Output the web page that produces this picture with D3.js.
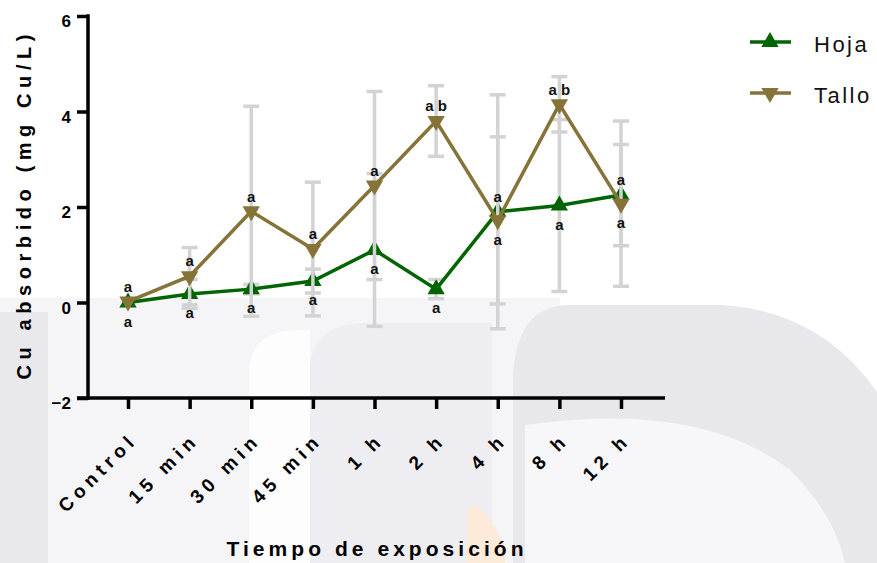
<!DOCTYPE html>
<html>
<head>
<meta charset="utf-8">
<script src="https://cdn.jsdelivr.net/npm/d3@7"></script>
<style>
  body { margin: 0; background: #fff; }
  svg { display: block; }
</style>
</head>
<body>
<svg id="chart" width="877" height="563"></svg>
<script>
"use strict";

// values (mg Cu/L)
var categories = ["Control", "15 min", "30 min", "45 min", "1 h", "2 h", "4 h", "8 h", "12 h"];
var hoja = [0, 0.18, 0.28, 0.45, 1.1, 0.28, 1.9, 2.03, 2.25];
var hojaErr = [0, 0.3, 0.1, 0.25, 1.6, 0.2, 2.45, 1.8, 1.06];
var tallo = [0.02, 0.55, 1.91, 1.12, 2.45, 3.8, 1.72, 4.15, 2.07];
var talloErr = [0, 0.6, 2.2, 1.4, 1.97, 0.74, 1.75, 0.58, 1.73];
var talloLetters = ["a", "a", "a", "a", "a", "a b", "a", "a b", "a"];
var hojaLetters = ["a", "a", "a", "a", "a", "a", "a", "a", "a"];
var yTicks = [-2, 0, 2, 4, 6];
var seriesNames = ["Hoja", "Tallo"];

var green = "#006400";
var olive = "#857338";
var errGrey = "#d3d3d3";
var font = "'Liberation Sans', Arial, sans-serif";

var svg = d3.select("#chart");

var x = d3.scalePoint().domain(categories).range([128, 621]);
var y = d3.scaleLinear().domain([-2, 6]).range([398, 16]);

/**
 * Faint watermark shapes behind the plot.
 */
function background(svg) {
  var bg = svg.append("g");
  bg.append("rect").attr("x", 0).attr("y", 298).attr("width", 560).attr("height", 265).attr("fill", "#f5f5f7");
  bg.append("rect").attr("x", 0).attr("y", 312).attr("width", 48).attr("height", 251).attr("fill", "#e9e9ed");
  bg.append("path").attr("d", "M249,563 V370 Q252,330 300,330 H310 V563 Z").attr("fill", "#fdfdfd");
  bg.append("path").attr("d", "M310,563 V365 Q315,323 365,323 H492 V563 Z").attr("fill", "#eeeef2");
  bg.append("path").attr("d", "M513,563 V380 Q515,305 570,305 H720 Q820,310 877,392 V563 Z").attr("fill", "#e7e7ec");
  bg.append("path").attr("d", "M525,563 V425 Q700,400 790,470 Q835,515 845,563 Z").attr("fill", "#f7f7f9");
  bg.append("path").attr("d", "M466,563 L468,508 Q478,500 490,520 L505,545 V563 Z").attr("fill", "#fdebd9");
}

/**
 * Draw one data set: error bars, connecting line and triangle symbols.
 */
function drawSeries(svg, values, errs, color, down) {
  var g = svg.append("g");
  var cap = 8;

  var bars = g.selectAll(".err")
      .data(values.map(function(v, i) { return {v: v, e: errs[i], c: categories[i]}; })
        .filter(function(d) { return d.e > 0; }))
      .enter()
      .append("g")
      .attr("stroke", errGrey)
      .attr("stroke-width", 3.5);

  bars.append("line")
      .attr("x1", function(d) { return x(d.c); })
      .attr("x2", function(d) { return x(d.c); })
      .attr("y1", function(d) { return y(d.v - d.e); })
      .attr("y2", function(d) { return y(d.v + d.e); });
  bars.append("line")
      .attr("x1", function(d) { return x(d.c) - cap; })
      .attr("x2", function(d) { return x(d.c) + cap; })
      .attr("y1", function(d) { return y(d.v + d.e); })
      .attr("y2", function(d) { return y(d.v + d.e); });
  bars.append("line")
      .attr("x1", function(d) { return x(d.c) - cap; })
      .attr("x2", function(d) { return x(d.c) + cap; })
      .attr("y1", function(d) { return y(d.v - d.e); })
      .attr("y2", function(d) { return y(d.v - d.e); });

  var line = d3.line()
      .x(function(d, i) { return x(categories[i]); })
      .y(function(d) { return y(d); });

  g.append("path")
      .datum(values)
      .attr("d", line)
      .attr("fill", "none")
      .attr("stroke", color)
      .attr("stroke-width", 3.5)
      .attr("stroke-linejoin", "miter");

  g.selectAll(".pt")
      .data(values)
      .enter()
      .append("path")
      .attr("d", d3.symbol().type(d3.symbolTriangle).size(130))
      .attr("transform", function(d, i) {
        return "translate(" + x(categories[i]) + "," + y(d) + ")" + (down ? " rotate(180)" : "");
      })
      .attr("fill", color);
}

background(svg);
drawSeries(svg, hoja, hojaErr, green, false);
drawSeries(svg, tallo, talloErr, olive, true);

// significance letters: Tallo above the upper marker, Hoja below the lower one
var letters = svg.append("g")
    .attr("font-family", font)
    .attr("font-weight", "bold")
    .attr("font-size", "15px")
    .attr("text-anchor", "middle")
    .attr("fill", "#111");

letters.selectAll(".up")
    .data(talloLetters)
    .enter()
    .append("text")
    .attr("x", function(d, i) { return x(categories[i]); })
    .attr("y", function(d, i) { return Math.min(y(hoja[i]), y(tallo[i])) - 15; })
    .attr("dy", "0.35em")
    .text(function(d) { return d; });

letters.selectAll(".down")
    .data(hojaLetters)
    .enter()
    .append("text")
    .attr("x", function(d, i) { return x(categories[i]); })
    .attr("y", function(d, i) { return Math.max(y(hoja[i]), y(tallo[i])) + 19; })
    .attr("dy", "0.35em")
    .text(function(d) { return d; });

// axes
var yAxis = svg.append("g")
    .attr("transform", "translate(88,0)")
    .call(d3.axisLeft(y).tickValues(yTicks).tickSize(11).tickFormat(d3.format("d")))
    .attr("font-family", font);
yAxis.select(".domain").remove();
yAxis.selectAll("line").attr("stroke", "#000").attr("stroke-width", 3.5);
yAxis.selectAll("text")
    .attr("x", -17)
    .attr("dy", null)
    .attr("y", 10.5)
    .attr("fill", "#000")
    .style("font-size", "17px")
    .style("font-weight", "bold");

var xAxis = svg.append("g")
    .attr("transform", "translate(0," + y(-2) + ")")
    .call(d3.axisBottom(x).tickSize(11).tickSizeOuter(0))
    .attr("font-family", font);
xAxis.select(".domain").remove();
xAxis.selectAll("line").attr("stroke", "#000").attr("stroke-width", 3.5);
xAxis.selectAll("text")
    .attr("y", 0)
    .attr("dy", null)
    .attr("text-anchor", "end")
    .attr("transform", "translate(10,43) rotate(-45)")
    .attr("fill", "#000")
    .style("font-size", "19px")
    .style("font-weight", "bold")
    .style("letter-spacing", "5px");

svg.append("line")
    .attr("x1", 88).attr("x2", 88)
    .attr("y1", y(6) - 1.75).attr("y2", y(-2) + 1.75)
    .attr("stroke", "#000").attr("stroke-width", 3.5);
svg.append("line")
    .attr("x1", 77).attr("x2", 665)
    .attr("y1", y(-2)).attr("y2", y(-2))
    .attr("stroke", "#000").attr("stroke-width", 3.5);

// titles
svg.append("text")
    .attr("transform", "translate(31," + (y(6) + y(-2)) / 2 + ") rotate(-90)")
    .attr("text-anchor", "middle")
    .attr("font-family", font)
    .attr("font-weight", "bold")
    .attr("font-size", "20px")
    .attr("textLength", 345)
    .attr("lengthAdjust", "spacing")
    .text("Cu absorbido (mg Cu/L)");

svg.append("text")
    .attr("x", 375)
    .attr("y", 556)
    .attr("text-anchor", "middle")
    .attr("font-family", font)
    .attr("font-weight", "bold")
    .attr("font-size", "21px")
    .attr("textLength", 297)
    .attr("lengthAdjust", "spacing")
    .text("Tiempo de exposición");

// legend
var legend = svg.append("g").attr("font-family", font);
var legendColors = [green, olive];
var legendY = [42, 93];

seriesNames.forEach(function(name, i) {
  legend.append("line")
      .attr("x1", 750).attr("x2", 791)
      .attr("y1", legendY[i]).attr("y2", legendY[i])
      .attr("stroke", legendColors[i]).attr("stroke-width", 3.5);
  legend.append("path")
      .attr("d", d3.symbol().type(d3.symbolTriangle).size(130))
      .attr("transform", "translate(770," + legendY[i] + ")" + (i == 1 ? " rotate(180)" : ""))
      .attr("fill", legendColors[i]);
  legend.append("text")
      .attr("x", 814)
      .attr("y", legendY[i] + 10)
      .attr("font-size", "22px")
      .style("letter-spacing", "2.5px")
      .attr("fill", "#111")
      .text(name);
});
</script>
</body>
</html>
